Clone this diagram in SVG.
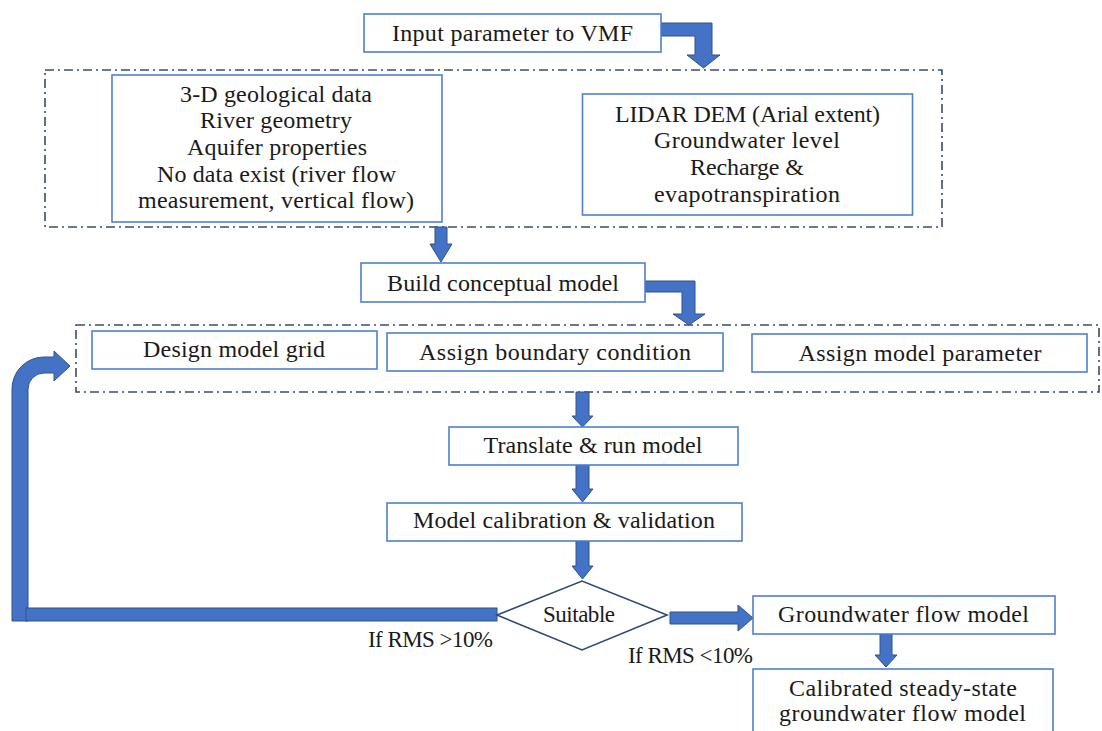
<svg xmlns="http://www.w3.org/2000/svg" width="1102" height="731" viewBox="0 0 1102 731">
  <defs>
    <style>
      .box { fill: #ffffff; stroke: #4f7fd0; stroke-width: 1.6; }
      .group { fill: none; stroke: #3a4d6b; stroke-width: 1.6; stroke-dasharray: 9 4 2 4; }
      .diamond { fill: #ffffff; stroke: #2f4a7a; stroke-width: 1.6; }
      .arrow { fill: #4472c4; stroke: #2f528f; stroke-width: 1; stroke-linejoin: miter; }
      text { font-family: "Liberation Serif", "DejaVu Serif", serif; font-size: 24px; fill: #1a1a1a; text-anchor: middle; }
      text.label { font-size: 23px; }
    </style>
  </defs>

  <!-- dash-dot grouping frames -->
  <g id="data-group">
    <rect class="group" x="45" y="70" width="897" height="157"/>
  </g>
  <g id="setup-group">
    <rect class="group" x="76" y="325" width="1023" height="67"/>
  </g>

  <!-- block arrows -->
  <g id="connectors">
    <path class="arrow" d="M661,23 H712 V55 H720 L703.5,68 L687,55 H695 V36 H661 Z"/>
    <path class="arrow" d="M435,227 H447 V244 H452 L441,262 L430,244 H435 Z"/>
    <path class="arrow" d="M645,281 H695 V314 H705 L689,325 L673,314 H682 V292 H645 Z"/>
    <path class="arrow" d="M576,392 H589 V416 H593 L582.5,427 L572,416 H576 Z"/>
    <path class="arrow" d="M576,465 H589 V489 H593 L582.5,502 L572,489 H576 Z"/>
    <path class="arrow" d="M576,541 H589 V566 H593 L582.5,579 L572,566 H576 Z"/>
    <path class="arrow" d="M670,612 H738 V605 L753,618 L738,631 V624 H670 Z"/>
    <path class="arrow" d="M880,634 H892 V655 H897 L886,667 L875,655 H880 Z"/>
    <!-- feedback loop back to the model setup -->
    <path class="arrow" d="M12,621 V389 A32,32 0 0 1 44,357 H54 V351 L70,366 L54,381 V373 H44 A16,16 0 0 0 28,389 V621 Z"/>
    <rect class="arrow" x="26" y="608" width="471" height="13"/>
  </g>

  <g id="input">
    <rect class="box" x="364" y="14" width="297" height="38"/>
    <text x="512.5" y="41" textLength="241">Input parameter to VMF</text>
  </g>

  <g id="geology-data">
    <rect class="box" x="112" y="75" width="330" height="147"/>
    <text x="276" y="102" textLength="192">3-D geological data</text>
    <text x="276" y="128" textLength="152">River geometry</text>
    <text x="277" y="155" textLength="180">Aquifer properties</text>
    <text x="276.5" y="182" textLength="239">No data exist (river flow</text>
    <text x="276" y="208" textLength="276">measurement, vertical flow)</text>
  </g>

  <g id="surface-data">
    <rect class="box" x="582.5" y="94" width="330" height="121"/>
    <text x="747.5" y="122" textLength="265">LIDAR DEM (Arial extent)</text>
    <text x="747" y="148" textLength="186">Groundwater level</text>
    <text x="747" y="175" textLength="114">Recharge &amp;</text>
    <text x="747" y="202" textLength="186">evapotranspiration</text>
  </g>

  <g id="conceptual-model">
    <rect class="box" x="361" y="263" width="284" height="39"/>
    <text x="503" y="291" textLength="232">Build conceptual model</text>
  </g>

  <g id="model-grid">
    <rect class="box" x="92" y="331" width="285" height="38"/>
    <text x="234" y="357" textLength="182">Design model grid</text>
  </g>

  <g id="boundary-condition">
    <rect class="box" x="387" y="333" width="336" height="38"/>
    <text x="555" y="360" textLength="272">Assign boundary condition</text>
  </g>

  <g id="model-parameter">
    <rect class="box" x="752" y="334" width="335" height="38"/>
    <text x="920" y="361" textLength="243">Assign model parameter</text>
  </g>

  <g id="run-model">
    <rect class="box" x="449" y="427" width="289" height="38"/>
    <text x="593" y="453" textLength="219">Translate &amp; run model</text>
  </g>

  <g id="calibration">
    <rect class="box" x="387" y="503" width="355" height="38"/>
    <text x="564" y="528" textLength="302">Model calibration &amp; validation</text>
  </g>

  <g id="decision">
    <polygon class="diamond" points="497,615 582,581 667,615 582,650"/>
    <text class="label" x="579" y="622" textLength="72">Suitable</text>
    <text class="label" x="430.5" y="647" textLength="125">If RMS &gt;10%</text>
    <text class="label" x="690.5" y="663" textLength="125">If RMS &lt;10%</text>
  </g>

  <g id="flow-model">
    <rect class="box" x="753" y="596" width="302" height="38"/>
    <text x="903.5" y="622" textLength="251">Groundwater flow model</text>
  </g>

  <g id="calibrated-model">
    <rect class="box" x="753" y="669" width="300" height="72"/>
    <text x="903" y="696" textLength="228">Calibrated steady-state</text>
    <text x="902.5" y="721" textLength="247">groundwater flow model</text>
  </g>
</svg>
